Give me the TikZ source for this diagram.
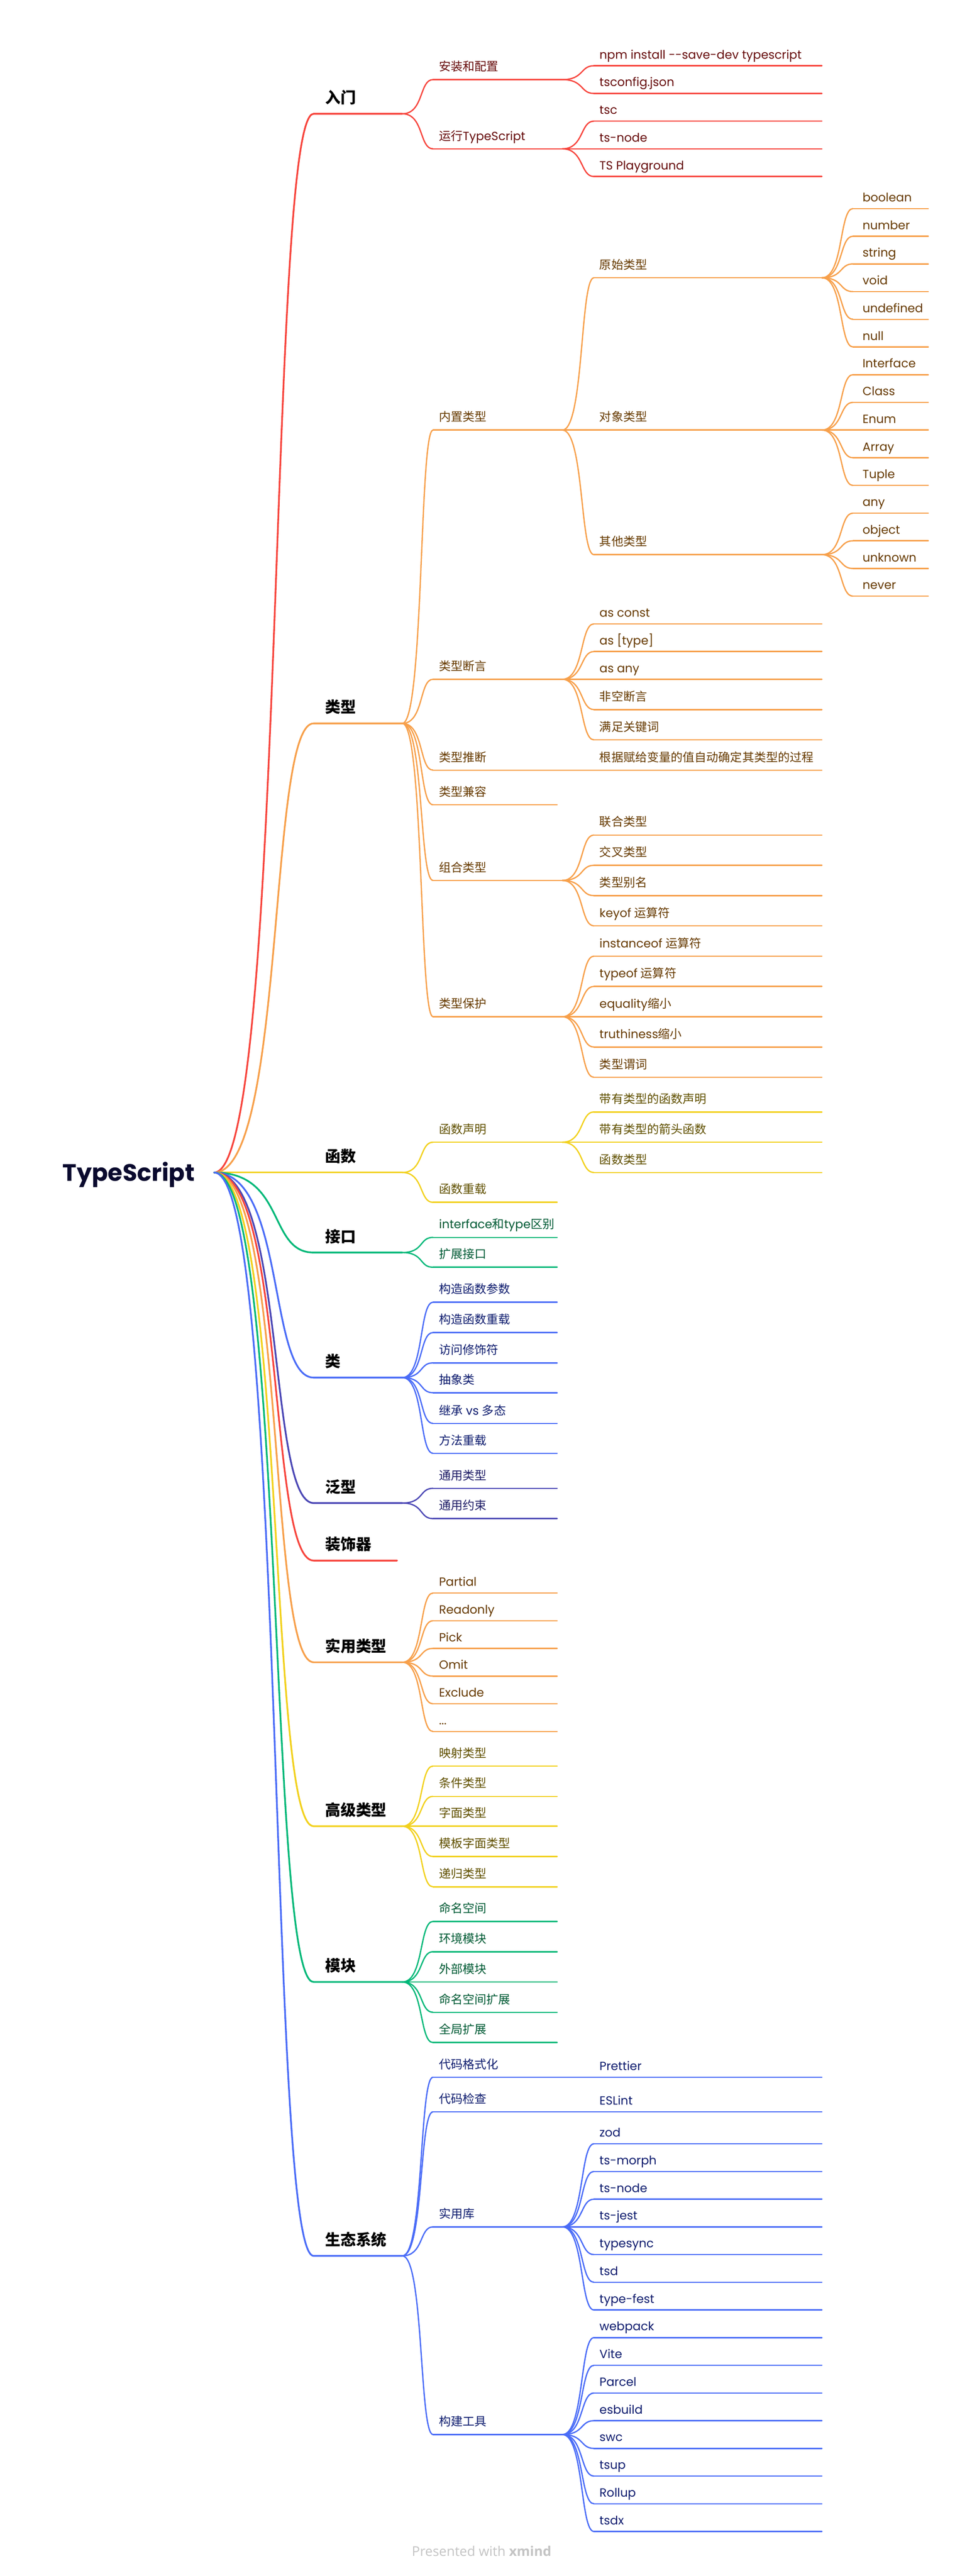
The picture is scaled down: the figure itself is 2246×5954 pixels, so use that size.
\documentclass[tikz,border=0pt]{standalone}
\usepackage{fontspec}
\setmainfont{Poppins}
\newfontfamily\cjkfont{Noto Sans CJK SC}
\newfontfamily\footfont{Open Sans}
\usetikzlibrary{calc}
\definecolor{RL}{HTML}{F7453D}\definecolor{RT}{HTML}{660B0B}
\definecolor{OL}{HTML}{F7A04B}\definecolor{OT}{HTML}{663A00}
\definecolor{YL}{HTML}{F2D11E}\definecolor{YT}{HTML}{605000}
\definecolor{GL}{HTML}{00B878}\definecolor{GT}{HTML}{005A34}
\definecolor{BL}{HTML}{4A6CF7}\definecolor{BT}{HTML}{0E1C6E}
\definecolor{IL}{HTML}{4B47B5}\definecolor{IT}{HTML}{1E1C66}
\definecolor{rootc}{HTML}{0A0A2E}
\definecolor{footgray}{HTML}{C4C4C4}
\newcommand\zh{\cjkfont}
\newcommand\fs{\fontsize{27.5}{33}\selectfont}
\tikzset{
  ln/.style={line width=3pt, line cap=round, line join=round},
  rln/.style={line width=4pt, line cap=round, line join=round},
  lbl/.style={anchor=base west, inner sep=0pt, outer sep=0pt, font=\fs},
  lvlone/.style={anchor=base west, inner sep=0pt, outer sep=0pt, text=black,
    font=\cjkfont\bfseries\fontsize{35.5}{40}\selectfont},
}
% generic topic: name, colour, xs, xe, label x, y, baseline offset, text
\newcommand\T[8]{%
  \coordinate (#1s) at (#3,#6);
  \coordinate (#1e) at (#4,#6);
  \draw[ln,draw=#2L] (#1s) -- (#1e);
  \node[lbl,text=#2T] (#1) at (#5,#6-#7) {#8};}
% level 1: name, colour, y, xe, text
\newcommand\LA[5]{%
  \coordinate (#1s) at (725,#3);
  \coordinate (#1e) at (#4,#3);
  \draw[rln,draw=#2L] (roote) .. controls +(166,0) and +(-106,0) .. (#1s) -- (#1e);
  \node[lvlone] (#1) at (752,#3-24) {#5};}
% level 2: name, colour, y, xe, then {offset}{text}
\newcommand\LB[4]{\T{#1}{#2}{1001}{#4}{1015}{#3}}
% level 3: name, colour, y, then {offset}{text}
\newcommand\LC[3]{\T{#1}{#2}{1373}{1900}{1386}{#3}}
% level 4
\newcommand\LD[3]{\T{#1}{#2}{1972}{2146}{1994}{#3}}
% connector parent -> child
\newcommand\C[3]{\draw[ln,draw=#1L] (#2e) .. controls +(50,0) and +(-32,0) .. (#3s);}
\begin{document}
\begin{tikzpicture}[x=1pt,y=-1pt]
\useasboundingbox (0,0) rectangle (2246,5954);
\fill[white] (0,0) rectangle (2246,5954);
\node[anchor=base west, inner sep=0pt, text=rootc, font=\bfseries\fontsize{55}{60}\selectfont] (root) at (145,2730) {TypeScript};
\coordinate (roote) at (495,2710);

% ---------------- 入门
\LA{a}{R}{263}{930}{入门}
\LB{a1}{R}{184}{1300}{20}{\zh 安装和配置} \C{R}{a}{a1}
\LC{a11}{R}{152}{16}{npm install -{}-save-dev typescript} \C{R}{a1}{a11}
\LC{a12}{R}{216}{16}{tsconfig.json} \C{R}{a1}{a12}
\LB{a2}{R}{344}{1300}{20}{{\zh 运行}TypeScript} \C{R}{a}{a2}
\LC{a21}{R}{280}{16}{tsc} \C{R}{a2}{a21}
\LC{a22}{R}{344}{16}{ts-node} \C{R}{a2}{a22}
\LC{a23}{R}{408}{16}{TS Playground} \C{R}{a2}{a23}

% ---------------- 类型
\LA{b}{O}{1672}{930}{类型}
\LB{b1}{O}{994}{1300}{20}{\zh 内置类型} \C{O}{b}{b1}
\LC{b11}{O}{642}{20}{\zh 原始类型} \C{O}{b1}{b11}
\LD{b111}{O}{482}{16}{boolean} \C{O}{b11}{b111}
\LD{b112}{O}{546}{16}{number} \C{O}{b11}{b112}
\LD{b113}{O}{610}{16}{string} \C{O}{b11}{b113}
\LD{b114}{O}{674}{16}{void} \C{O}{b11}{b114}
\LD{b115}{O}{738}{16}{undefined} \C{O}{b11}{b115}
\LD{b116}{O}{802}{16}{null} \C{O}{b11}{b116}
\LC{b12}{O}{994}{20}{\zh 对象类型} \C{O}{b1}{b12}
\LD{b121}{O}{866}{16}{Interface} \C{O}{b12}{b121}
\LD{b122}{O}{930}{16}{Class} \C{O}{b12}{b122}
\LD{b123}{O}{994}{16}{Enum} \C{O}{b12}{b123}
\LD{b124}{O}{1058}{16}{Array} \C{O}{b12}{b124}
\LD{b125}{O}{1122}{16}{Tuple} \C{O}{b12}{b125}
\LC{b13}{O}{1282}{20}{\zh 其他类型} \C{O}{b1}{b13}
\LD{b131}{O}{1186}{16}{any} \C{O}{b13}{b131}
\LD{b132}{O}{1250}{16}{object} \C{O}{b13}{b132}
\LD{b133}{O}{1314}{16}{unknown} \C{O}{b13}{b133}
\LD{b134}{O}{1378}{16}{never} \C{O}{b13}{b134}
\LB{b2}{O}{1570}{1300}{20}{\zh 类型断言} \C{O}{b}{b2}
\LC{b21}{O}{1442}{16}{as const} \C{O}{b2}{b21}
\LC{b22}{O}{1506}{16}{as [type]} \C{O}{b2}{b22}
\LC{b23}{O}{1570}{16}{as any} \C{O}{b2}{b23}
\LC{b24}{O}{1640}{20}{\zh 非空断言} \C{O}{b2}{b24}
\LC{b25}{O}{1710}{20}{\zh 满足关键词} \C{O}{b2}{b25}
\LB{b3}{O}{1780}{1300}{20}{\zh 类型推断} \C{O}{b}{b3}
\LC{b31}{O}{1780}{20}{\zh 根据赋给变量的值自动确定其类型的过程} \C{O}{b3}{b31}
\LB{b4}{O}{1860}{1288}{20}{\zh 类型兼容} \C{O}{b}{b4}
\LB{b5}{O}{2035}{1300}{20}{\zh 组合类型} \C{O}{b}{b5}
\LC{b51}{O}{1930}{20}{\zh 联合类型} \C{O}{b5}{b51}
\LC{b52}{O}{2000}{20}{\zh 交叉类型} \C{O}{b5}{b52}
\LC{b53}{O}{2070}{20}{\zh 类型别名} \C{O}{b5}{b53}
\LC{b54}{O}{2140}{20}{keyof {\zh 运算符}} \C{O}{b5}{b54}
\LB{b6}{O}{2350}{1300}{20}{\zh 类型保护} \C{O}{b}{b6}
\LC{b61}{O}{2210}{20}{instanceof {\zh 运算符}} \C{O}{b6}{b61}
\LC{b62}{O}{2280}{20}{typeof {\zh 运算符}} \C{O}{b6}{b62}
\LC{b63}{O}{2350}{20}{equality{\zh 缩小}} \C{O}{b6}{b63}
\LC{b64}{O}{2420}{20}{truthiness{\zh 缩小}} \C{O}{b6}{b64}
\LC{b65}{O}{2490}{20}{\zh 类型谓词} \C{O}{b6}{b65}

% ---------------- 函数
\LA{c}{Y}{2710}{930}{函数}
\LB{c1}{Y}{2640}{1300}{20}{\zh 函数声明} \C{Y}{c}{c1}
\LC{c11}{Y}{2570}{20}{\zh 带有类型的函数声明} \C{Y}{c1}{c11}
\LC{c12}{Y}{2640}{20}{\zh 带有类型的箭头函数} \C{Y}{c1}{c12}
\LC{c13}{Y}{2710}{20}{\zh 函数类型} \C{Y}{c1}{c13}
\LB{c2}{Y}{2779}{1288}{20}{\zh 函数重载} \C{Y}{c}{c2}

% ---------------- 接口
\LA{d}{G}{2895}{930}{接口}
\LB{d1}{G}{2860}{1288}{20}{interface{\zh 和}type{\zh 区别}} \C{G}{d}{d1}
\LB{d2}{G}{2929}{1288}{20}{\zh 扩展接口} \C{G}{d}{d2}

% ---------------- 类
\LA{e}{B}{3184}{930}{类}
\LB{e1}{B}{3010}{1288}{20}{\zh 构造函数参数} \C{B}{e}{e1}
\LB{e2}{B}{3080}{1288}{20}{\zh 构造函数重载} \C{B}{e}{e2}
\LB{e3}{B}{3150}{1288}{20}{\zh 访问修饰符} \C{B}{e}{e3}
\LB{e4}{B}{3219}{1288}{20}{\zh 抽象类} \C{B}{e}{e4}
\LB{e5}{B}{3290}{1288}{20}{{\zh 继承} vs {\zh 多态}} \C{B}{e}{e5}
\LB{e6}{B}{3359}{1288}{20}{\zh 方法重载} \C{B}{e}{e6}

% ---------------- 泛型
\LA{f}{I}{3474}{930}{泛型}
\LB{f1}{I}{3440}{1288}{20}{\zh 通用类型} \C{I}{f}{f1}
\LB{f2}{I}{3510}{1288}{20}{\zh 通用约束} \C{I}{f}{f2}

% ---------------- 装饰器
\LA{g}{R}{3607}{918}{装饰器}

% ---------------- 实用类型
\LA{h}{O}{3842}{930}{实用类型}
\LB{h1}{O}{3682}{1288}{16}{Partial} \C{O}{h}{h1}
\LB{h2}{O}{3746}{1288}{16}{Readonly} \C{O}{h}{h2}
\LB{h3}{O}{3810}{1288}{16}{Pick} \C{O}{h}{h3}
\LB{h4}{O}{3874}{1288}{16}{Omit} \C{O}{h}{h4}
\LB{h5}{O}{3938}{1288}{16}{Exclude} \C{O}{h}{h5}
\LB{h6}{O}{4002}{1288}{16}{...} \C{O}{h}{h6}

% ---------------- 高级类型
\LA{i}{Y}{4221}{930}{高级类型}
\LB{i1}{Y}{4082}{1288}{20}{\zh 映射类型} \C{Y}{i}{i1}
\LB{i2}{Y}{4152}{1288}{20}{\zh 条件类型} \C{Y}{i}{i2}
\LB{i3}{Y}{4221}{1288}{20}{\zh 字面类型} \C{Y}{i}{i3}
\LB{i4}{Y}{4291}{1288}{20}{\zh 模板字面类型} \C{Y}{i}{i4}
\LB{i5}{Y}{4361}{1288}{20}{\zh 递归类型} \C{Y}{i}{i5}

% ---------------- 模块
\LA{j}{G}{4581}{930}{模块}
\LB{j1}{G}{4441}{1288}{20}{\zh 命名空间} \C{G}{j}{j1}
\LB{j2}{G}{4511}{1288}{20}{\zh 环境模块} \C{G}{j}{j2}
\LB{j3}{G}{4581}{1288}{20}{\zh 外部模块} \C{G}{j}{j3}
\LB{j4}{G}{4651}{1288}{20}{\zh 命名空间扩展} \C{G}{j}{j4}
\LB{j5}{G}{4721}{1288}{20}{\zh 全局扩展} \C{G}{j}{j5}

% ---------------- 生态系统
\LA{k}{B}{5214}{930}{生态系统}
\LB{k1}{B}{4801}{1300}{20}{\zh 代码格式化} \C{B}{k}{k1}
\LC{k11}{B}{4801}{16}{Prettier} \C{B}{k1}{k11}
\LB{k2}{B}{4881}{1300}{20}{\zh 代码检查} \C{B}{k}{k2}
\LC{k21}{B}{4881}{16}{ESLint} \C{B}{k2}{k21}
\LB{k3}{B}{5147}{1300}{20}{\zh 实用库} \C{B}{k}{k3}
\LC{k31}{B}{4955}{16}{zod} \C{B}{k3}{k31}
\LC{k32}{B}{5019}{16}{ts-morph} \C{B}{k3}{k32}
\LC{k33}{B}{5083}{16}{ts-node} \C{B}{k3}{k33}
\LC{k34}{B}{5147}{16}{ts-jest} \C{B}{k3}{k34}
\LC{k35}{B}{5211}{16}{typesync} \C{B}{k3}{k35}
\LC{k36}{B}{5275}{16}{tsd} \C{B}{k3}{k36}
\LC{k37}{B}{5339}{16}{type-fest} \C{B}{k3}{k37}
\LB{k4}{B}{5627}{1300}{20}{\zh 构建工具} \C{B}{k}{k4}
\LC{k41}{B}{5403}{16}{webpack} \C{B}{k4}{k41}
\LC{k42}{B}{5467}{16}{Vite} \C{B}{k4}{k42}
\LC{k43}{B}{5531}{16}{Parcel} \C{B}{k4}{k43}
\LC{k44}{B}{5595}{16}{esbuild} \C{B}{k4}{k44}
\LC{k45}{B}{5659}{16}{swc} \C{B}{k4}{k45}
\LC{k46}{B}{5723}{16}{tsup} \C{B}{k4}{k46}
\LC{k47}{B}{5787}{16}{Rollup} \C{B}{k4}{k47}
\LC{k48}{B}{5851}{16}{tsdx} \C{B}{k4}{k48}

\node[anchor=base west, inner sep=0pt, text=footgray, font=\footfont\fontsize{31}{34}\selectfont] (foot) at (952,5908) {Presented with \textbf{xmind}};
\end{tikzpicture}
\end{document}
